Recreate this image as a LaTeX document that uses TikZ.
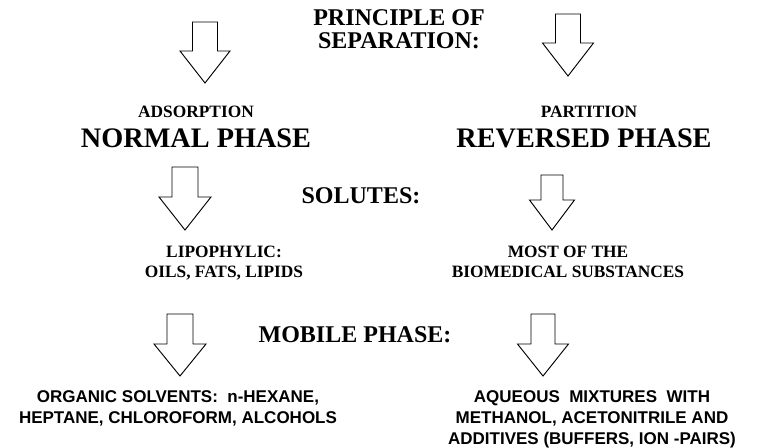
\documentclass[tikz,border=0pt]{standalone}
\usepackage{fontspec}
\setmainfont{Liberation Serif}
\setsansfont{Liberation Sans}
\usepackage{tikz}
\newcommand{\fatarrow}[6]{%
  \draw[arrowbody] (#1-#5,#2) -- (#1+#5,#2) -- (#1+#5,#3) -- (#1+#6,#3)
    -- (#1,#4) -- (#1-#6,#3) -- (#1-#5,#3) -- cycle;}
\tikzset{
  arrowbody/.style={draw=black, fill=white, line width=0.7pt, line join=miter},
  phasename/.style={font=\fontsize{21.2}{25}\selectfont\bfseries, inner sep=0pt, anchor=base},
  question/.style={font=\fontsize{18}{17.25}\selectfont\bfseries, inner sep=0pt, anchor=base, align=center},
  mode/.style={font=\fontsize{13}{15}\selectfont\bfseries, inner sep=0pt, anchor=base, align=center},
  solvent/.style={font=\fontsize{12.75}{15.4}\selectfont\sffamily\bfseries, inner sep=0pt, anchor=base, align=center}
}

\begin{document}
\begin{tikzpicture}[x=0.75pt,y=-0.75pt]
  \useasboundingbox (0,0) rectangle (757,447);

  \node[question] (principle) at (399,48) {PRINCIPLE OF\\SEPARATION:};
  \fatarrow{205}{22}{51}{83}{12.5}{25}
  \fatarrow{568}{14}{43}{76}{12.5}{25.5}

  \node[mode] (adsorption) at (196,117) {ADSORPTION};
  \node[phasename] (normal) at (196,147) {NORMAL PHASE};
  \node[mode] (partition) at (589,117) {PARTITION};
  \node[phasename] (reversed) at (584,147) {REVERSED PHASE};

  \node[question] (solutes) at (361,203) {SOLUTES:};
  \fatarrow{185}{167}{197}{230}{13}{26}
  \fatarrow{552}{175}{200}{230}{11}{22.5}

  \node[mode] (lipophylic) at (224,277) {LIPOPHYLIC:\\OILS, FATS, LIPIDS};
  \node[mode] (biomedical) at (568,277) {MOST OF THE\\BIOMEDICAL SUBSTANCES};

  \node[question] (mobile) at (355,342) {MOBILE PHASE:};
  \fatarrow{180}{314}{344}{376}{13}{26}
  \fatarrow{543}{314}{344}{376}{12}{25.5}

  \node[solvent] (organic) at (178,423)
    {ORGANIC SOLVENTS:\ \ n-HEXANE,\\HEPTANE, CHLOROFORM, ALCOHOLS};
  \node[solvent] (aqueous) at (592,444)
    {AQUEOUS\ \ MIXTURES\ \ WITH\\METHANOL, ACETONITRILE AND\\ADDITIVES (BUFFERS, ION -PAIRS)};
\end{tikzpicture}
\end{document}
